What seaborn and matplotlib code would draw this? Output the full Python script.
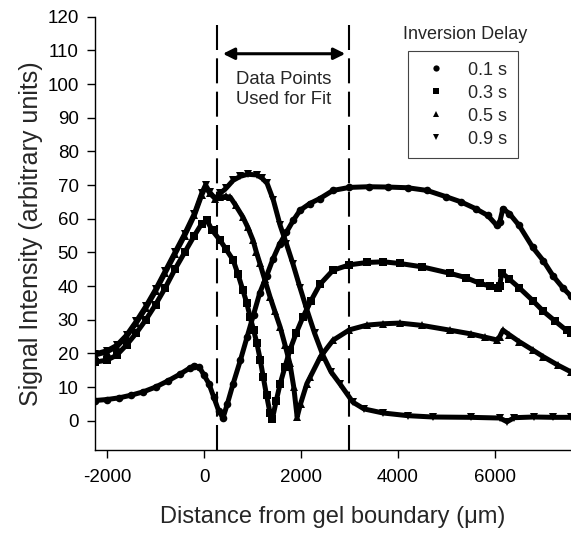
import matplotlib
matplotlib.use("Agg")
import matplotlib.pyplot as plt
from matplotlib.lines import Line2D
import seaborn as sns
import pandas as pd

# values (distance in um, signal in arbitrary units)
x_01 = [-2250, -2000, -1750, -1500, -1250, -1000, -750, -500, -300, -200, -100, 0, 100, 200, 300, 390,
        480, 600, 750, 890, 1020, 1150, 1290, 1420, 1560, 1700, 1840, 1980, 2180, 2390, 2660, 3000,
        3400, 3800, 4200, 4600, 5000, 5300, 5600, 5850, 6040, 6100, 6165, 6300, 6500, 6780, 7000,
        7200, 7400, 7570]
y_01 = [6, 6.3, 6.8, 7.6, 8.6, 10, 11.8, 13.8, 15.6, 16.3, 16, 13.5, 11, 7, 3, 0.8,
        5, 11, 18, 25, 31.5, 38, 43, 48, 52.5, 56, 59.5, 62.5, 64.5, 66, 68.4, 69.3,
        69.5, 69.4, 69.2, 68.4, 66.5, 65, 63, 61, 58, 59, 63, 61.5, 58, 51.5, 47.5,
        43, 39.5, 37]

x_03 = [-2250, -2000, -1800, -1600, -1400, -1200, -1000, -800, -600, -400, -200, -50, 60, 165, 330,
        450, 600, 700, 800, 880, 950, 1020, 1090, 1160, 1220, 1290, 1360, 1410, 1490, 1570, 1670,
        1770, 1900, 2040, 2200, 2390, 2660, 3000, 3360, 3700, 4040, 4500, 5070, 5400, 5690, 5900,
        6060, 6100, 6140, 6300, 6500, 6780, 7000, 7250, 7480, 7570]
y_03 = [17.4, 18, 19.5, 22.5, 26, 30, 34.5, 39.5, 45, 50, 55, 58.5, 59.5, 56.6, 53.6,
        51, 47.7, 43.5, 38.8, 35, 30.8, 27, 23, 18, 13, 7.5, 2.3, 0.6, 6, 11, 16,
        21, 26, 30.8, 35.5, 40.5, 44.7, 46.3, 47, 47.2, 46.7, 45.7, 43.8, 42.5, 40.8, 40,
        39.3, 40, 44, 42, 39.5, 35.7, 32.5, 29.5, 26.8, 26]

x_05 = [-2250, -2000, -1800, -1600, -1400, -1200, -1000, -800, -600, -400, -200, -50, 30, 120, 230,
        330, 450, 540, 650, 800, 900, 1010, 1080, 1150, 1250, 1360, 1460, 1570, 1670, 1770, 1850,
        1920, 1990, 2120, 2190, 2400, 2660, 3000, 3360, 3700, 4040, 4500, 5070, 5500, 5800, 6040,
        6100, 6165, 6300, 6500, 6780, 7000, 7300, 7570]
y_05 = [19.5, 20.5, 22, 25, 29, 33.5, 38.5, 44, 49.5, 55, 61, 67, 69.5, 67.5, 66,
        66.4, 66.6, 66.4, 64, 60.5, 57.5, 53.6, 50, 46.8, 42, 36.8, 32.5, 27.8, 22.5, 17, 10,
        1.1, 5, 11, 13, 19, 23.9, 27, 28.4, 28.8, 29, 28.3, 26.9, 25.8, 24.8, 24,
        25, 26.9, 25.5, 23.5, 21, 19, 16.5, 14.5]

x_09 = [-2250, -2000, -1800, -1600, -1400, -1200, -1000, -800, -600, -400, -200, -50, 30, 120, 230,
        330, 450, 600, 750, 900, 1090, 1200, 1300, 1430, 1570, 1700, 1835, 1980, 2120, 2280, 2450,
        2620, 2800, 3070, 3300, 3690, 4200, 4720, 5500, 6100, 6250, 6400, 6800, 7200, 7570]
y_09 = [19.8, 20.8, 22.4, 25.4, 29.5, 34, 39, 44.5, 50, 55.5, 61.5, 67.5, 70, 67.8, 66,
        67.5, 69, 71.4, 72.6, 73.2, 73, 72, 70.5, 65.5, 58, 52.5, 46.5, 39.5, 33, 26, 19.5,
        14.5, 11, 5.5, 3.5, 2.3, 1.5, 1.1, 1, 0.8, -0.3, 0.9, 1.1, 1, 1]

delays = ["0.1 s", "0.3 s", "0.5 s", "0.9 s"]
marker_list = ["o", "s", "^", "v"]
fit_bounds = [270, 3000]

frames = []
for name, xs, ys in zip(delays, [x_01, x_03, x_05, x_09], [y_01, y_03, y_05, y_09]):
    frames.append(pd.DataFrame({"distance": xs, "signal": ys, "delay": name}))
df = pd.concat(frames, ignore_index=True)

sns.set_style("ticks")
plt.rcParams["font.family"] = ["Liberation Sans", "DejaVu Sans"]
plt.rcParams["axes.unicode_minus"] = False

fig = plt.figure(figsize=(5.71, 5.34), dpi=100)
ax = fig.add_axes([0.1664, 0.1573, 0.8336, 0.8114])

sns.lineplot(data=df, x="distance", y="signal", style="delay", markers=marker_list,
             dashes=False, color="black", linewidth=3.6, markersize=5.5,
             markeredgewidth=0, legend=False, ax=ax)

for xb in fit_bounds:
    ax.axvline(xb, color="black", lw=1.5, ls=(0, (12, 4)))

ax.annotate("", xy=(330, 109), xytext=(2970, 109),
            arrowprops=dict(arrowstyle="<|-|>", color="black", lw=2.2, mutation_scale=17))
ax.text(1650, 98.3, "Data Points\nUsed for Fit", ha="center", va="center",
        fontsize=13.3, linespacing=1.2)

ax.text(5380, 114.8, "Inversion Delay", ha="center", va="center", fontsize=13)
handles = [Line2D([], [], color="black", marker=m, ls="none", markersize=4.5, markeredgewidth=0)
           for m in marker_list]
leg = ax.legend(handles, delays, loc="upper left", bbox_to_anchor=(0.658, 0.921),
                fontsize=13, frameon=True, fancybox=False, framealpha=1,
                borderpad=0.6, labelspacing=0.33, handlelength=1.9, handletextpad=0.8,
                borderaxespad=0)
leg.get_frame().set_edgecolor("#444444")
leg.get_frame().set_linewidth(0.8)

ax.set_xlim(-2250, 7570)
ax.set_ylim(-8.7, 120)
ax.set_xticks([-2000, 0, 2000, 4000, 6000])
ax.set_yticks(range(0, 121, 10))
ax.tick_params(axis="both", labelsize=13.5, direction="out", length=5.8, width=1, colors="black")
ax.tick_params(axis="y", pad=6)
ax.tick_params(axis="x", pad=8)
for s in ["top", "right"]:
    ax.spines[s].set_visible(False)
for s in ["left", "bottom"]:
    ax.spines[s].set_color("black")
    ax.spines[s].set_linewidth(1)

ax.set_xlabel("Distance from gel boundary (\u03bcm)", fontsize=17, labelpad=14)
ax.set_ylabel("Signal Intensity (arbitrary units)", fontsize=18, labelpad=3)

fig.savefig("out.png", dpi=100)
